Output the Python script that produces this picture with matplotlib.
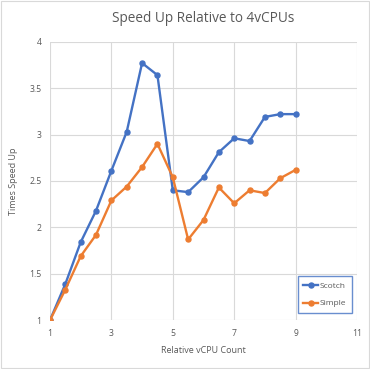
import matplotlib as mpl
mpl.use('Agg')
from matplotlib import pyplot as plt
from matplotlib.patches import Rectangle

# data
vcpu = [1, 1.5, 2, 2.5, 3, 3.5, 4, 4.5, 5, 5.5, 6, 6.5, 7, 7.5, 8, 8.5, 9]
scotch = [1.0, 1.39, 1.84, 2.18, 2.61, 3.03, 3.77, 3.64, 2.40, 2.38, 2.54,
          2.81, 2.96, 2.93, 3.19, 3.22, 3.22]
simple = [1.0, 1.33, 1.69, 1.92, 2.29, 2.44, 2.65, 2.90, 2.54, 1.87, 2.08,
          2.43, 2.26, 2.40, 2.37, 2.53, 2.62]
xticks = [1, 3, 5, 7, 9, 11]
yticks = [1, 1.5, 2, 2.5, 3, 3.5, 4]

plt.rcParams['font.family'] = ['Open Sans', 'DejaVu Sans']
grey = '#595959'

fig = plt.figure(figsize=(3.7, 3.69), dpi=100)
ax = fig.add_axes([0.135, 0.132, 0.83, 0.755])

ax.plot(vcpu, scotch, color='#4472C4', lw=1.7, marker='o', ms=3.6, label='Scotch')
ax.plot(vcpu, simple, color='#ED7D31', lw=1.7, marker='o', ms=3.6, label='Simple')

ax.set_xlim(1, 11)
ax.set_ylim(1, 4)
ax.set_xticks(xticks)
ax.set_yticks(yticks)
ax.set_yticklabels(['1', '1.5', '2', '2.5', '3', '3.5', '4'])
ax.grid(True, color='#d9d9d9', lw=0.8)
ax.set_axisbelow(True)
for s in ax.spines.values():
    s.set_visible(False)
ax.tick_params(length=0, labelsize=6.2, colors=grey, pad=6)

ax.set_title('Speed Up Relative to 4vCPUs', fontsize=9.8, color=grey, pad=14)
ax.set_xlabel('Relative vCPU Count', fontsize=6.5, color=grey, labelpad=6)
ax.set_ylabel('Times Speed Up', fontsize=6.5, color=grey, labelpad=8)

leg = ax.legend(loc='lower right', bbox_to_anchor=(0.982, 0.025), fontsize=6,
                frameon=True, fancybox=False, handlelength=1.8,
                labelspacing=1.2, borderpad=0.7, handletextpad=0.1,
                borderaxespad=0)
leg.get_frame().set_edgecolor('#4472C4')
leg.get_frame().set_linewidth(1.0)
for t in leg.get_texts():
    t.set_color(grey)

fig.patches.append(Rectangle((0.003, 0.003), 0.994, 0.994, transform=fig.transFigure,
                             fill=False, edgecolor='#d9d9d9', lw=0.8))

fig.savefig('out.png', dpi=100)
